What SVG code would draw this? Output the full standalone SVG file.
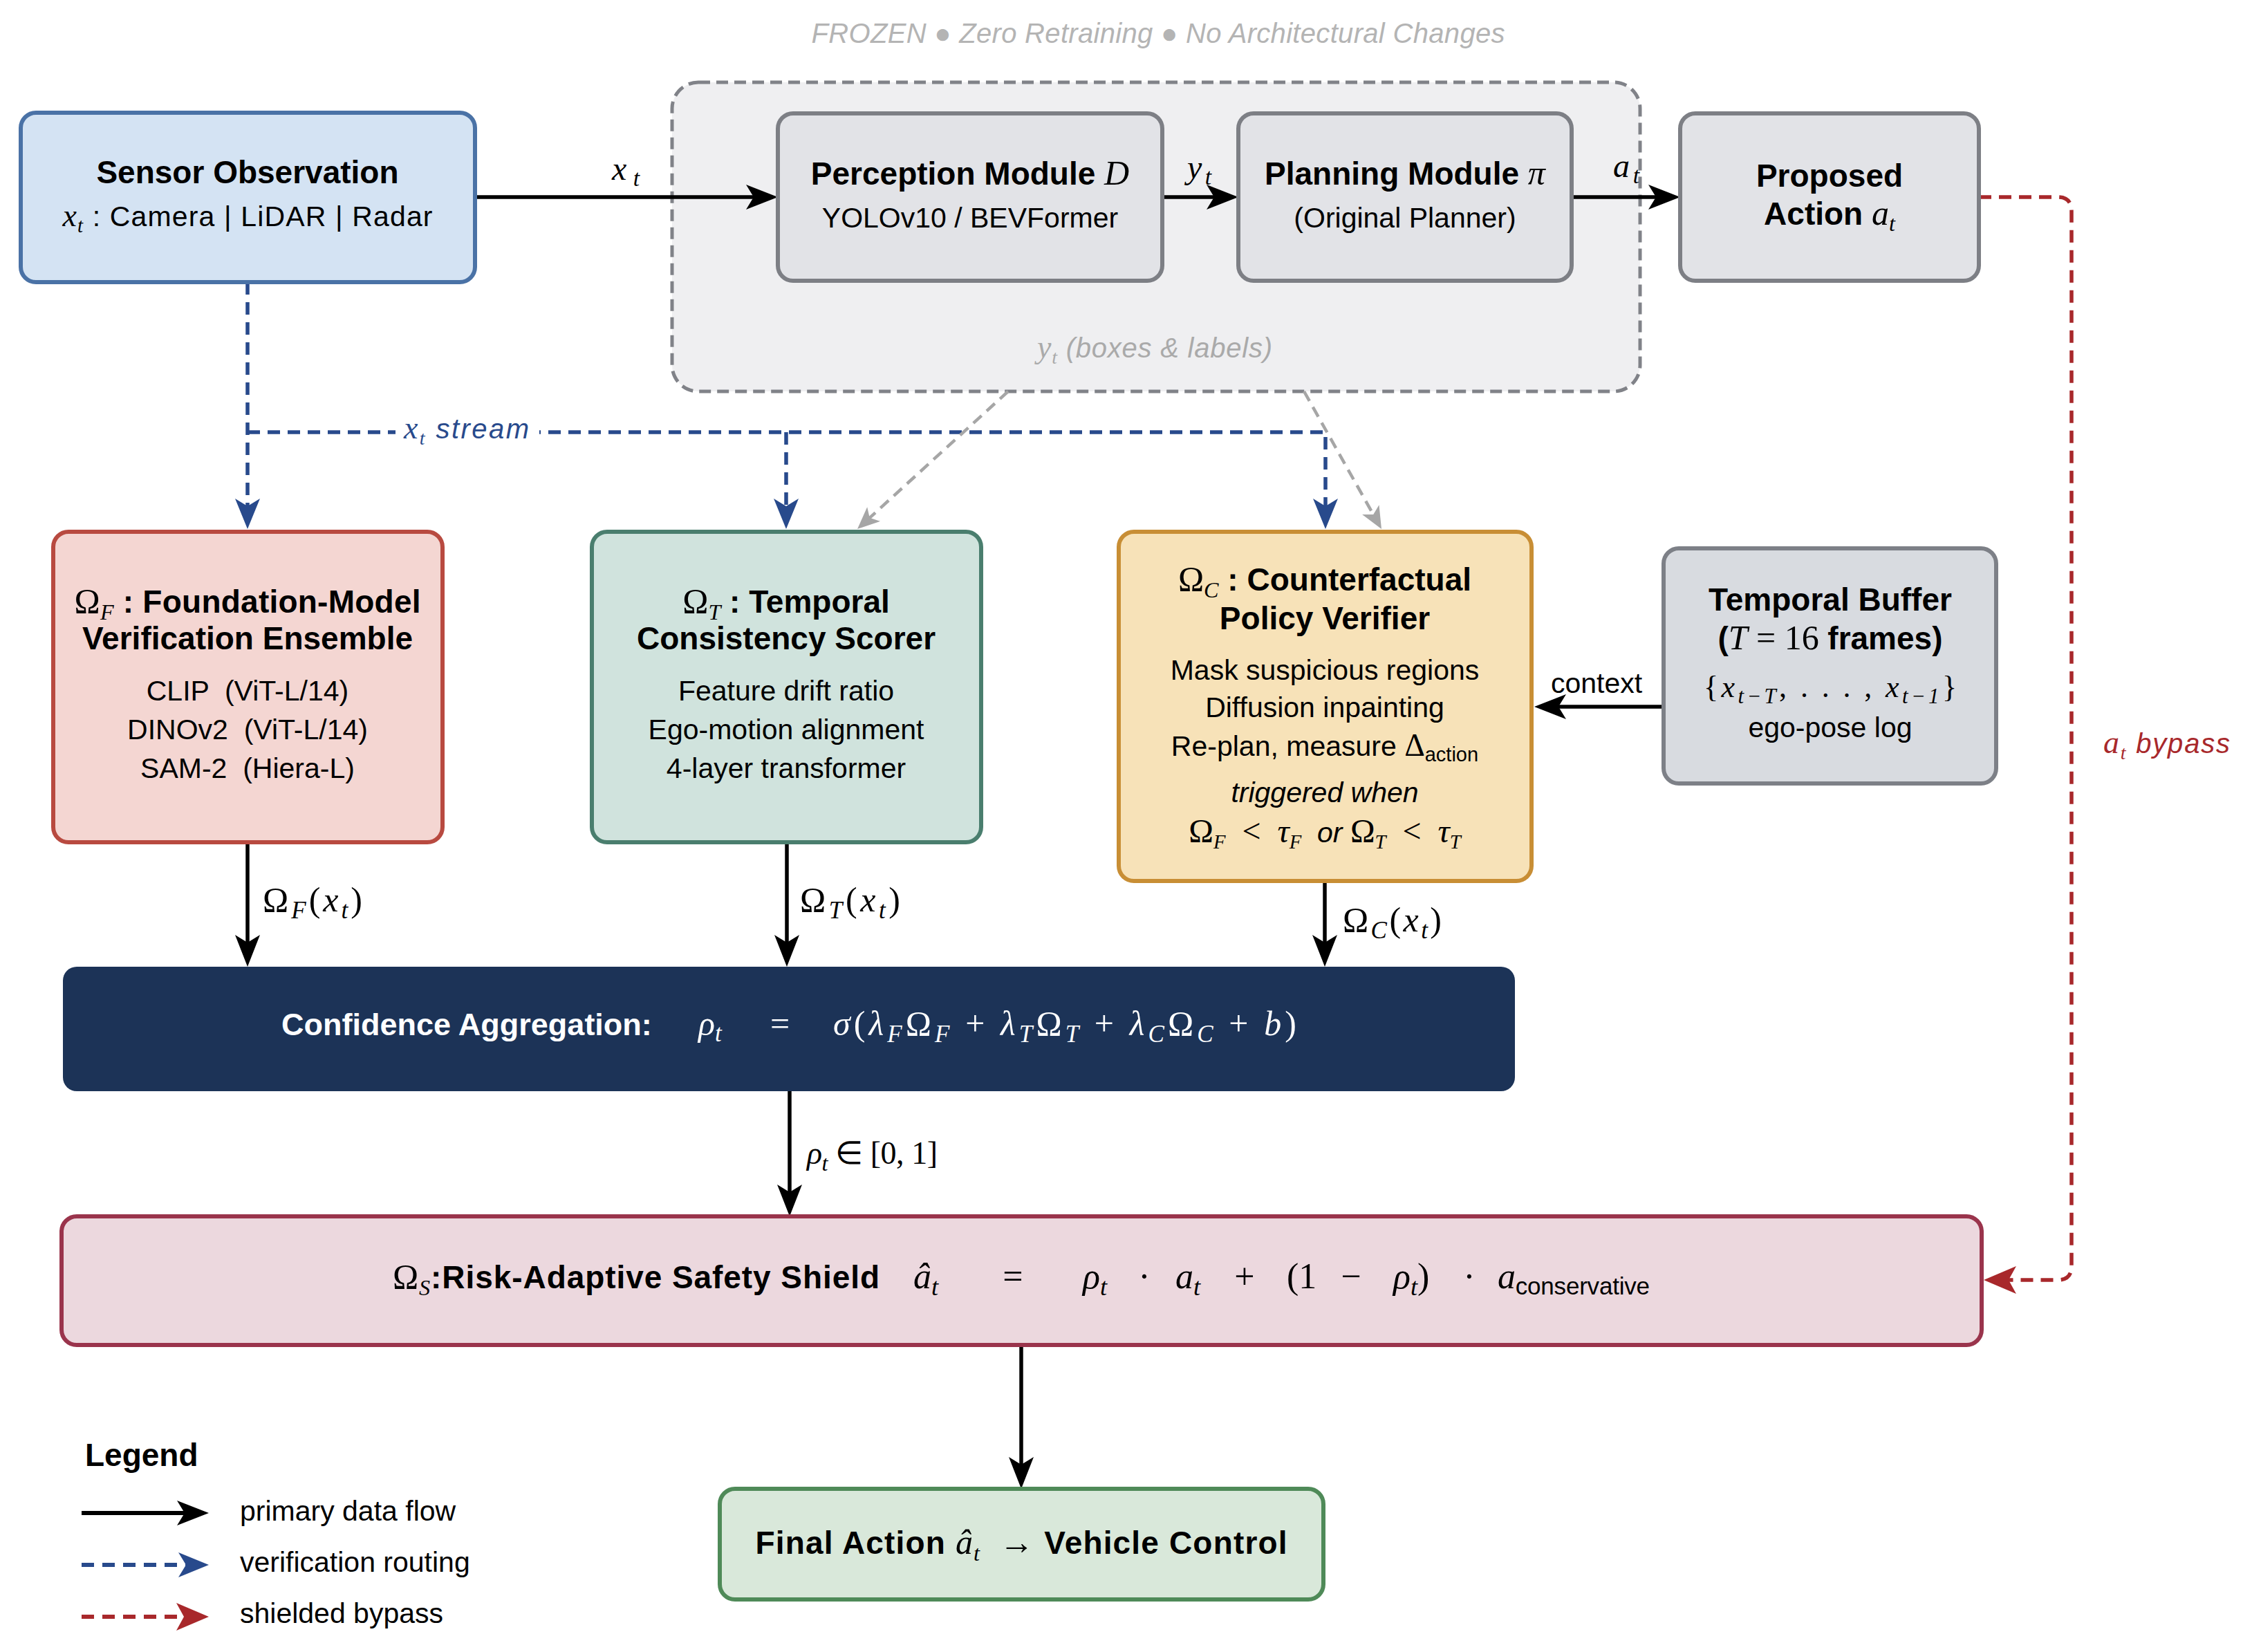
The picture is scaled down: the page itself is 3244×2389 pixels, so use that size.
<svg xmlns="http://www.w3.org/2000/svg" width="3244" height="2389" viewBox="0 0 3244 2389">
<style>
.t{font-family:"Liberation Sans",Arial,sans-serif;}
.b{font-weight:bold;font-size:46px;}
.r{font-size:41px;}
.m{font-family:"Liberation Serif","Times New Roman",serif;font-style:italic;font-weight:normal;}
.u{font-family:"Liberation Serif","Times New Roman",serif;font-style:normal;font-weight:normal;}
.s{font-size:70%;}
.c{text-anchor:middle;}
.box{stroke-width:6;}
.k{fill:none;stroke:#000;stroke-width:5.5;}
.bl{fill:none;stroke:#284a8c;stroke-width:5.5;stroke-dasharray:18 11;}
.rd{fill:none;stroke:#a8282b;stroke-width:5.5;stroke-dasharray:18 11;}
.gr{fill:none;stroke:#a6a6a6;stroke-width:4.5;stroke-dasharray:16 10;}
</style>
<defs>
<marker id="ak" markerUnits="userSpaceOnUse" viewBox="-50 -25 70 50" markerWidth="70" markerHeight="50" refX="0" refY="0" orient="auto" overflow="visible"><path d="M10,0 L-36,-18 L-25,0 L-36,18 Z" fill="#000"/></marker>
<marker id="ab" markerUnits="userSpaceOnUse" viewBox="-50 -25 70 50" markerWidth="70" markerHeight="50" refX="0" refY="0" orient="auto" overflow="visible"><path d="M10,0 L-34,-18 L-23,0 L-34,18 Z" fill="#284a8c"/></marker>
<marker id="ar" markerUnits="userSpaceOnUse" viewBox="-50 -25 70 50" markerWidth="70" markerHeight="50" refX="0" refY="0" orient="auto" overflow="visible"><path d="M10,0 L-37,-20 L-26,0 L-37,20 Z" fill="#a8282b"/></marker>
<marker id="ag" markerUnits="userSpaceOnUse" viewBox="-50 -25 70 50" markerWidth="70" markerHeight="50" refX="0" refY="0" orient="auto" overflow="visible"><path d="M10,0 L-22,-14 L-14,0 L-22,14 Z" fill="#a6a6a6"/></marker>
</defs>
<rect width="3244" height="2389" fill="#fff"/>

<g id="frozen">
<rect x="972" y="119" width="1400" height="447" rx="38" fill="#efeff1" stroke="#808288" stroke-width="5" stroke-dasharray="17 9"/>
<text x="1675" y="62" class="t c" font-size="40" font-style="italic" fill="#b4b4b4" textLength="1003" lengthAdjust="spacing">FROZEN ● Zero Retraining ● No Architectural Changes</text>
<text x="1500" y="517" class="t" font-size="40" font-style="italic" fill="#aaaaaa" textLength="340" lengthAdjust="spacing"><tspan class="m" font-size="46">y</tspan><tspan class="m s" dy="9">t</tspan><tspan dy="-9">  (boxes &amp; labels)</tspan></text>
</g>

<g id="connectors">
<path class="k" d="M687,285 H1115" marker-end="url(#ak)"/>
<path class="k" d="M1681,285 H1781" marker-end="url(#ak)"/>
<path class="k" d="M2273,285 H2420" marker-end="url(#ak)"/>
<path class="rd" d="M2862,285 H2976 Q2996,285 2996,305 V1831 Q2996,1851 2976,1851 H2879" marker-end="url(#ar)"/>
<path class="bl" d="M358,408 V755" marker-end="url(#ab)"/>
<path class="bl" d="M358,625 H1917 V755" marker-end="url(#ab)"/>
<path class="bl" d="M1137,625 V755" marker-end="url(#ab)"/>
<path class="gr" d="M1458,566 L1247.4,758.3" marker-end="url(#ag)"/>
<path class="gr" d="M1886,566 L1993.1,756.3" marker-end="url(#ag)"/>
<path class="k" d="M2406,1022 H2229" marker-end="url(#ak)"/>
<path class="k" d="M358,1218 V1388" marker-end="url(#ak)"/>
<path class="k" d="M1138,1218 V1388" marker-end="url(#ak)"/>
<path class="k" d="M1916,1274 V1388" marker-end="url(#ak)"/>
<path class="k" d="M1142,1578 V1749" marker-end="url(#ak)"/>
<path class="k" d="M1477,1945 V2143" marker-end="url(#ak)"/>
<rect x="572" y="603" width="208" height="46" fill="#fff"/>
<text x="584" y="634" class="t" font-size="40" font-style="italic" fill="#284a8c" textLength="181" lengthAdjust="spacing"><tspan class="m" font-size="46">x</tspan><tspan class="m s" dy="9">t</tspan><tspan dy="-9"> stream</tspan></text>
<text x="885" y="260" class="m" font-size="48" textLength="40" lengthAdjust="spacing">x<tspan class="s" dy="9">t</tspan></text>
<text x="1717" y="258" class="m" font-size="48" textLength="35" lengthAdjust="spacing">y<tspan class="s" dy="9">t</tspan></text>
<text x="2333" y="256" class="m" font-size="48" textLength="38" lengthAdjust="spacing">a<tspan class="s" dy="9">t</tspan></text>
<text x="2243" y="1002" class="t r">context</text>
<text x="3042" y="1089" class="t" font-size="40" font-style="italic" fill="#a8282b" textLength="183" lengthAdjust="spacing"><tspan class="m" font-size="46">a</tspan><tspan class="m s" dy="9">t</tspan><tspan dy="-9"> bypass</tspan></text>
<text x="380" y="1318" class="u" font-size="50" textLength="144" lengthAdjust="spacing">Ω<tspan class="m s" dy="10">F</tspan><tspan dy="-10">(</tspan><tspan class="m">x</tspan><tspan class="m s" dy="10">t</tspan><tspan dy="-10">)</tspan></text>
<text x="1157" y="1318" class="u" font-size="50" textLength="145" lengthAdjust="spacing">Ω<tspan class="m s" dy="10">T</tspan><tspan dy="-10">(</tspan><tspan class="m">x</tspan><tspan class="m s" dy="10">t</tspan><tspan dy="-10">)</tspan></text>
<text x="1942" y="1347" class="u" font-size="50" textLength="143" lengthAdjust="spacing">Ω<tspan class="m s" dy="10">C</tspan><tspan dy="-10">(</tspan><tspan class="m">x</tspan><tspan class="m s" dy="10">t</tspan><tspan dy="-10">)</tspan></text>
<text x="1167" y="1683" class="u" font-size="46" textLength="189" lengthAdjust="spacing"><tspan class="m">ρ</tspan><tspan class="m s" dy="10">t</tspan><tspan dy="-10"> ∈ [0, 1]</tspan></text>
</g>

<g id="sensor">
<rect class="box" x="30" y="163" width="657" height="245" rx="22" fill="#d4e3f3" stroke="#4a72a6"/>
<text x="358" y="265" class="t b c">Sensor Observation</text>
<text x="358" y="327" class="t r c" textLength="535" lengthAdjust="spacing"><tspan class="m" font-size="46">x</tspan><tspan class="m s" dy="9">t</tspan><tspan dy="-9"> : Camera | LiDAR | Radar</tspan></text>
</g>

<g id="perception">
<rect class="box" x="1125" y="164" width="556" height="242" rx="22" fill="#e2e3e7" stroke="#7d7f85"/>
<text x="1403" y="267" class="t b c">Perception Module <tspan class="m" font-size="50">D</tspan></text>
<text x="1403" y="329" class="t r c">YOLOv10 / BEVFormer</text>
</g>

<g id="planning">
<rect class="box" x="1791" y="164" width="482" height="242" rx="22" fill="#e2e3e7" stroke="#7d7f85"/>
<text x="2032" y="267" class="t b c">Planning Module <tspan class="m" font-size="50">π</tspan></text>
<text x="2032" y="329" class="t r c">(Original Planner)</text>
</g>

<g id="proposed">
<rect class="box" x="2430" y="164" width="432" height="242" rx="22" fill="#e2e3e7" stroke="#7d7f85"/>
<text x="2646" y="270" class="t b c">Proposed</text>
<text x="2646" y="325" class="t b c">Action <tspan class="m" font-size="50">a</tspan><tspan class="m s" dy="9">t</tspan></text>
</g>

<g id="foundation">
<rect class="box" x="77" y="769" width="563" height="449" rx="22" fill="#f4d6d2" stroke="#b84a40"/>
<text x="358" y="886" class="t b c" textLength="501" lengthAdjust="spacing"><tspan class="u" font-size="50">Ω</tspan><tspan class="m s" dy="10">F</tspan><tspan dy="-10"> : Foundation-Model</tspan></text>
<text x="358" y="939" class="t b c">Verification Ensemble</text>
<text x="358" y="1013" class="t r c">CLIP &#160;(ViT-L/14)</text>
<text x="358" y="1069" class="t r c">DINOv2 &#160;(ViT-L/14)</text>
<text x="358" y="1125" class="t r c">SAM-2 &#160;(Hiera-L)</text>
</g>

<g id="temporal">
<rect class="box" x="856" y="769" width="563" height="449" rx="22" fill="#d0e3dd" stroke="#4a7e6e"/>
<text x="1137" y="886" class="t b c"><tspan class="u" font-size="50">Ω</tspan><tspan class="m s" dy="10">T</tspan><tspan dy="-10"> : Temporal</tspan></text>
<text x="1137" y="939" class="t b c">Consistency Scorer</text>
<text x="1137" y="1013" class="t r c">Feature drift ratio</text>
<text x="1137" y="1069" class="t r c">Ego-motion alignment</text>
<text x="1137" y="1125" class="t r c">4-layer transformer</text>
</g>

<g id="counterfactual">
<rect class="box" x="1618" y="769" width="597" height="505" rx="22" fill="#f7e2b8" stroke="#c88e35"/>
<text x="1916" y="854" class="t b c"><tspan class="u" font-size="50">Ω</tspan><tspan class="m s" dy="10">C</tspan><tspan dy="-10"> : Counterfactual</tspan></text>
<text x="1916" y="910" class="t b c">Policy Verifier</text>
<text x="1916" y="983" class="t r c">Mask suspicious regions</text>
<text x="1916" y="1037" class="t r c">Diffusion inpainting</text>
<text x="1916" y="1093" class="t r c">Re-plan, measure <tspan class="u" font-size="46">Δ</tspan><tspan font-size="29" dy="8">action</tspan></text>
<text x="1916" y="1160" class="t r c" font-style="italic">triggered when</text>
<text x="1916" y="1218" class="t c" font-size="41"><tspan class="u" font-size="48">Ω</tspan><tspan class="m s" dy="9">F</tspan><tspan class="u" font-size="48" dy="-9">&#160;&#160;&lt;&#160;&#160;</tspan><tspan class="m" font-size="48">τ</tspan><tspan class="m s" dy="9">F</tspan><tspan dy="-9" font-style="italic">&#160; or </tspan><tspan class="u" font-size="48">Ω</tspan><tspan class="m s" dy="9">T</tspan><tspan class="u" font-size="48" dy="-9">&#160;&#160;&lt;&#160;&#160;</tspan><tspan class="m" font-size="48">τ</tspan><tspan class="m s" dy="9">T</tspan></text>
</g>

<g id="buffer">
<rect class="box" x="2406" y="793" width="481" height="340" rx="22" fill="#d8dbe0" stroke="#7d8087"/>
<text x="2647" y="883" class="t b c">Temporal Buffer</text>
<text x="2647" y="939" class="t b c">(<tspan class="m" font-size="50">T</tspan><tspan class="u" font-size="50"> = 16 </tspan>frames)</text>
<text x="2647" y="1008" class="u c" font-size="44" textLength="366" lengthAdjust="spacing">{<tspan class="m">x</tspan><tspan class="m s" dy="9">t−T</tspan><tspan dy="-9">, . . . , </tspan><tspan class="m">x</tspan><tspan class="m s" dy="9">t−1</tspan><tspan dy="-9">}</tspan></text>
<text x="2647" y="1066" class="t r c">ego-pose log</text>
</g>

<g id="aggregation">
<rect x="91" y="1398" width="2100" height="180" rx="20" fill="#1c3357"/>
<text x="407" y="1497" class="t" font-weight="bold" font-size="45" fill="#fff">Confidence Aggregation:</text>
<text x="1010" y="1497" class="m" font-size="50" fill="#fff">ρ<tspan class="s" dy="9">t</tspan></text>
<text x="1128" y="1497" class="u c" font-size="50" fill="#fff">=</text>
<text x="1205" y="1497" class="u" font-size="50" fill="#fff" textLength="670" lengthAdjust="spacing"><tspan class="m">σ</tspan>(<tspan class="m">λ</tspan><tspan class="m s" dy="10">F</tspan><tspan dy="-10">Ω</tspan><tspan class="m s" dy="10">F</tspan><tspan dy="-10"> + </tspan><tspan class="m">λ</tspan><tspan class="m s" dy="10">T</tspan><tspan dy="-10">Ω</tspan><tspan class="m s" dy="10">T</tspan><tspan dy="-10"> + </tspan><tspan class="m">λ</tspan><tspan class="m s" dy="10">C</tspan><tspan dy="-10">Ω</tspan><tspan class="m s" dy="10">C</tspan><tspan dy="-10"> + </tspan><tspan class="m">b</tspan>)</text>
</g>

<g id="shield">
<rect class="box" x="89" y="1759" width="2777" height="186" rx="22" fill="#ecd8de" stroke="#9a344c"/>
<text x="568" y="1863" class="t b" textLength="704" lengthAdjust="spacing"><tspan class="u" font-size="50">Ω</tspan><tspan class="m s" dy="10">S</tspan><tspan dy="-10">:Risk-Adaptive Safety Shield</tspan></text>
<text x="1321" y="1863" class="m" font-size="52">â<tspan class="s" dy="10">t</tspan></text>
<text x="1465" y="1863" class="u c" font-size="52">=</text>
<text x="1566" y="1863" class="m" font-size="52">ρ<tspan class="s" dy="10">t</tspan></text>
<text x="1655" y="1863" class="u c" font-size="52">·</text>
<text x="1700" y="1863" class="m" font-size="52">a<tspan class="s" dy="10">t</tspan></text>
<text x="1800" y="1863" class="u c" font-size="52">+</text>
<text x="1861" y="1863" class="u" font-size="52">(1</text>
<text x="1954" y="1863" class="u c" font-size="52">−</text>
<text x="2015" y="1863" class="m" font-size="52">ρ<tspan class="s" dy="10">t</tspan><tspan class="u" font-size="52" dy="-10">)</tspan></text>
<text x="2125" y="1863" class="u c" font-size="52">·</text>
<text x="2166" y="1863" class="m" font-size="52" textLength="220" lengthAdjust="spacing">a<tspan class="t" font-style="normal" font-size="35" dy="9">conservative</tspan></text>
</g>

<g id="final">
<rect class="box" x="1041" y="2153" width="873" height="160" rx="22" fill="#d9e8da" stroke="#4f8a58"/>
<text x="1477" y="2247" class="t b c" textLength="769" lengthAdjust="spacing">Final Action <tspan class="m" font-size="50">â</tspan><tspan class="m s" dy="10">t</tspan><tspan class="u" font-size="50" dy="-10"> &#160;→ </tspan>Vehicle Control</text>
</g>

<g id="legend">
<text x="123" y="2120" class="t b">Legend</text>
<path d="M118,2188 H292" fill="none" stroke="#000" stroke-width="6" marker-end="url(#ak)"/>
<path d="M118,2263 H292" fill="none" stroke="#284a8c" stroke-width="6" stroke-dasharray="18 12" marker-end="url(#ab)"/>
<path d="M118,2338 H292" fill="none" stroke="#a8282b" stroke-width="6" stroke-dasharray="18 12" marker-end="url(#ar)"/>
<text x="347" y="2199" class="t r">primary data flow</text>
<text x="347" y="2273" class="t r">verification routing</text>
<text x="347" y="2347" class="t r">shielded bypass</text>
</g>
</svg>
